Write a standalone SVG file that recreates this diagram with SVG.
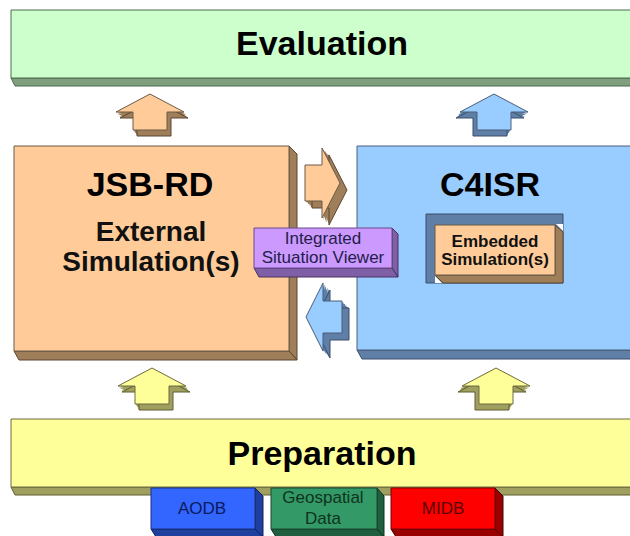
<svg xmlns="http://www.w3.org/2000/svg" xmlns:xlink="http://www.w3.org/1999/xlink" width="630" height="536" viewBox="0 0 630 536">
<style>
.t{font-family:"Liberation Sans",Arial,sans-serif;text-anchor:middle}
.title{font-size:34px;font-weight:bold;fill:#000}
.sub{font-size:28px;font-weight:bold;fill:#111}
.emb{font-size:17px;font-weight:bold;fill:#111}
.isv{font-size:17px;fill:#22204a}
.db{font-size:17px}
.edge{stroke-width:1;stroke-linejoin:round}
</style>
<defs>
<path id="up" d="M0,0 L34,18 L17,18 L17,36 L-17,36 L-17,18 L-34,18 Z"/>
<path id="rt" d="M0,0 L-18,-35 L-18,-18 L-35,-18 L-35,18 L-18,18 L-18,35 Z"/>
<path id="lt" d="M0,0 L17,-34 L17,-16 L36,-16 L36,16 L17,16 L17,34 Z"/>
</defs>
<rect width="630" height="536" fill="#ffffff"/>

<g id="evaluation">
<polygon points="11,78 641,78 641,86 15,86" fill="#7f9f7f" stroke="#4f6a4f" class="edge"/>
<rect x="11" y="10" width="630" height="68" fill="#ccffcc" stroke="#4f6a4f" class="edge"/>
<text class="t title" x="322" y="55">Evaluation</text>
</g>

<g id="jsb-rd">
<polygon points="289,146 297,154 297,360 289,351" fill="#9f7f5a" stroke="#5a4630" class="edge"/>
<polygon points="14,351 289,351 297,360 19,360" fill="#9f7f5a" stroke="#5a4630" class="edge"/>
<rect x="14" y="146" width="275" height="205" fill="#ffcc99" stroke="#6a5a48" class="edge"/>
<text class="t title" x="150" y="196">JSB-RD</text>
<text class="t sub" x="151" y="241">External</text>
<text class="t sub" x="151" y="271">Simulation(s)</text>
</g>

<g id="c4isr">
<polygon points="357,350 641,350 641,359 362,359" fill="#5f7fa6" stroke="#3a4f6a" class="edge"/>
<rect x="357" y="146" width="284" height="204" fill="#99ccff" stroke="#4a5f7a" class="edge"/>
<text class="t title" x="490" y="196">C4ISR</text>
</g>

<g id="embedded">
<rect x="426" y="214" width="137" height="69" fill="#5f7fa6" stroke="#3a4f6a" class="edge"/>
<polygon points="555,225 563,232 563,283 443,283 435,275 555,275" fill="#9f7f5a" stroke="#5a4630" class="edge"/>
<polygon points="556,224 563,224 563,231" fill="#ffffff"/>
<polygon points="435,276 435,283 442,283" fill="#ffffff"/>
<rect x="435" y="225" width="120" height="50" fill="#ffcc99" stroke="#6a5a48" class="edge"/>
<text class="t emb" x="495" y="247">Embedded</text>
<text class="t emb" x="495" y="265">Simulation(s)</text>
</g>

<g id="preparation">
<polygon points="11,487 641,487 641,495 15,495" fill="#9f9f5f" stroke="#5f5f30" class="edge"/>
<rect x="11" y="419" width="630" height="68" fill="#ffff99" stroke="#6a6a40" class="edge"/>
<text class="t title" x="322" y="465">Preparation</text>
</g>

<g id="aodb">
<polygon points="255,488 263,496 263,537 255,529" fill="#1f3f9f" stroke="#10205a" class="edge"/>
<polygon points="151,529 255,529 263,537 156,537" fill="#1f3f9f" stroke="#10205a" class="edge"/>
<rect x="151" y="488" width="104" height="41" fill="#3366ff" stroke="#1a3080" class="edge"/>
<text class="t db" x="202" y="514" fill="#0a1a5a">AODB</text>
</g>

<g id="geospatial">
<polygon points="377,488 384,496 384,537 377,529" fill="#1f5f3f" stroke="#0f3020" class="edge"/>
<polygon points="271,529 377,529 384,537 276,537" fill="#1f5f3f" stroke="#0f3020" class="edge"/>
<rect x="271" y="488" width="106" height="41" fill="#339966" stroke="#1a4a30" class="edge"/>
<text class="t db" x="323" y="503" fill="#0f3320">Geospatial</text>
<text class="t db" x="323" y="524" fill="#0f3320">Data</text>
</g>

<g id="midb">
<polygon points="495,488 503,496 503,537 495,529" fill="#990000" stroke="#4a0000" class="edge"/>
<polygon points="391,529 495,529 503,537 396,537" fill="#990000" stroke="#4a0000" class="edge"/>
<rect x="391" y="488" width="104" height="41" fill="#ff0000" stroke="#800000" class="edge"/>
<text class="t db" x="443" y="514" fill="#5a0000">MIDB</text>
</g>

<g id="connectors">
<!-- top left orange up arrow -->
<g fill="#9f7f5a">
<use xlink:href="#up" href="#up" transform="translate(151,95.5)"/>
<use xlink:href="#up" href="#up" transform="translate(152,97)"/>
<use xlink:href="#up" href="#up" transform="translate(153,98.5)"/>
<use xlink:href="#up" href="#up" transform="translate(154,100)" stroke="#5a4630"/>
</g>
<use xlink:href="#up" href="#up" transform="translate(150,94)" fill="#ffcc99" stroke="#6a5a48"/>
<!-- top right blue up arrow -->
<g fill="#5f7fa6">
<use xlink:href="#up" href="#up" transform="translate(493,95.5)"/>
<use xlink:href="#up" href="#up" transform="translate(492,97)"/>
<use xlink:href="#up" href="#up" transform="translate(491,98.5)"/>
<use xlink:href="#up" href="#up" transform="translate(490,100)" stroke="#3a4f6a"/>
</g>
<use xlink:href="#up" href="#up" transform="translate(494,94)" fill="#99ccff" stroke="#4a5f7a"/>
<!-- bottom left yellow up arrow -->
<g fill="#9f9f5f">
<use xlink:href="#up" href="#up" transform="translate(153,369.5)"/>
<use xlink:href="#up" href="#up" transform="translate(154,371)"/>
<use xlink:href="#up" href="#up" transform="translate(155,372.5)"/>
<use xlink:href="#up" href="#up" transform="translate(156,374)" stroke="#5f5f30"/>
</g>
<use xlink:href="#up" href="#up" transform="translate(152,368)" fill="#ffff99" stroke="#6a6a40"/>
<!-- bottom right yellow up arrow -->
<g fill="#9f9f5f">
<use xlink:href="#up" href="#up" transform="translate(495,369.5)"/>
<use xlink:href="#up" href="#up" transform="translate(494,371)"/>
<use xlink:href="#up" href="#up" transform="translate(493,372.5)"/>
<use xlink:href="#up" href="#up" transform="translate(492,374)" stroke="#5f5f30"/>
</g>
<use xlink:href="#up" href="#up" transform="translate(496,368)" fill="#ffff99" stroke="#6a6a40"/>
<!-- right-pointing orange arrow -->
<g fill="#9f7f5a">
<use xlink:href="#rt" href="#rt" transform="translate(341.5,184.5)"/>
<use xlink:href="#rt" href="#rt" transform="translate(343,186)"/>
<use xlink:href="#rt" href="#rt" transform="translate(344.5,187.5)"/>
<use xlink:href="#rt" href="#rt" transform="translate(346,189)"/>
<use xlink:href="#rt" href="#rt" transform="translate(347,190)" stroke="#5a4630"/>
</g>
<use xlink:href="#rt" href="#rt" transform="translate(340,183)" fill="#ffcc99" stroke="#6a5a48"/>
<!-- left-pointing blue arrow -->
<g fill="#5f7fa6">
<use xlink:href="#lt" href="#lt" transform="translate(307.5,318.5)"/>
<use xlink:href="#lt" href="#lt" transform="translate(309,320)"/>
<use xlink:href="#lt" href="#lt" transform="translate(310.5,321.5)"/>
<use xlink:href="#lt" href="#lt" transform="translate(312,323)"/>
<use xlink:href="#lt" href="#lt" transform="translate(313,324)" stroke="#3a4f6a"/>
</g>
<use xlink:href="#lt" href="#lt" transform="translate(306,317)" fill="#99ccff" stroke="#4a5f7a"/>
</g>

<g id="isv">
<polygon points="392,228 398,234 398,277 392,268" fill="#7f5fa6" stroke="#4a3060" class="edge"/>
<polygon points="254,268 392,268 398,277 259,277" fill="#7f5fa6" stroke="#4a3060" class="edge"/>
<rect x="254" y="228" width="138" height="40" fill="#cc99ff" stroke="#6a4a8a" class="edge"/>
<text class="t isv" x="323" y="244">Integrated</text>
<text class="t isv" x="323" y="263">Situation Viewer</text>
</g>
</svg>
